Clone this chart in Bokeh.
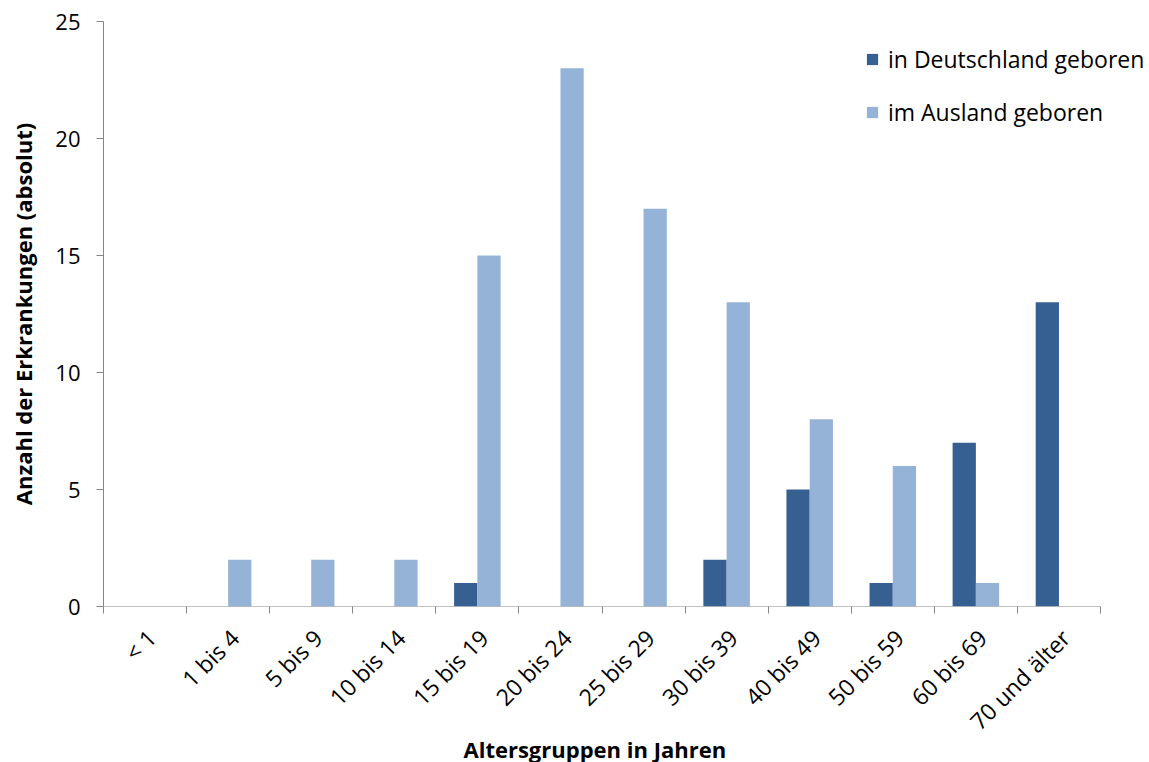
from bokeh.plotting import figure
from bokeh.models import (ColumnDataSource, Range1d, FixedTicker, Legend, LegendItem, Title)
from bokeh.transform import dodge
from bokeh.embed import file_html
from bokeh.resources import INLINE
import math

# Age groups and case counts
categories = ["< 1", "1 bis 4", "5 bis 9", "10 bis 14", "15 bis 19", "20 bis 24",
              "25 bis 29", "30 bis 39", "40 bis 49", "50 bis 59", "60 bis 69", "70 und älter"]
in_deutschland = [0, 0, 0, 0, 1, 0, 0, 2, 5, 1, 7, 13]
im_ausland = [0, 2, 2, 2, 15, 23, 17, 13, 8, 6, 1, 0]
y_ticks = [0, 5, 10, 15, 20, 25]

FONT = "Open Sans"
DARK = "#376092"
LIGHT = "#95B3D7"
AXIS_GREY = "#868686"

W, H = 1149, 762
LEFT, RIGHT_GAP, TOP, BOTTOM = 103, 49, 21, 156

n = len(categories)
centers = [i + 0.5 for i in range(n)]
source = ColumnDataSource(dict(x=centers, de=in_deutschland, aus=im_ausland))

# the frame runs to the right edge so the legend is not clipped;
# the category axis itself stops RIGHT_GAP pixels short of it
frame_w = W - LEFT
x_end = n * frame_w / (frame_w - RIGHT_GAP)

p = figure(width=W, height=H, output_backend="svg", toolbar_location=None,
           x_range=Range1d(0, x_end), y_range=Range1d(0, 25),
           min_border_left=LEFT, min_border_right=0, min_border_top=TOP,
           min_border_bottom=BOTTOM)
p.background_fill_color = "white"
p.border_fill_color = "white"
p.outline_line_color = None
p.xgrid.visible = False
p.ygrid.visible = False

bar_w = 0.28
r_de = p.vbar(x=dodge("x", -bar_w / 2, range=p.x_range), top="de", width=bar_w,
              source=source, fill_color=DARK, line_color=None)
r_aus = p.vbar(x=dodge("x", bar_w / 2, range=p.x_range), top="aus", width=bar_w,
               source=source, fill_color=LIGHT, line_color=None)

# category axis line
p.segment(x0=[0], y0=[0], x1=[n], y1=[0], line_color=AXIS_GREY, line_width=1)

# x axis: labels at each group, tick marks between groups
label_shift = 0.08
xa = p.xaxis[0]
xa.ticker = FixedTicker(ticks=[c + label_shift for c in centers],
                        minor_ticks=list(range(n + 1)))
xa.major_label_overrides = {c + label_shift: lab for c, lab in zip(centers, categories)}
xa.major_tick_out = 0
xa.major_tick_in = 0
xa.minor_tick_out = 7
xa.minor_tick_in = 0
xa.minor_tick_line_color = AXIS_GREY
xa.axis_line_color = None
xa.major_label_orientation = math.pi / 4
xa.major_label_standoff = 20
xa.major_label_text_font = FONT
xa.major_label_text_font_size = "23px"
xa.major_label_text_color = "black"

# x axis title, placed under the category axis span
x_title = Title(text="Altersgruppen in Jahren", align="left", offset=360,
                vertical_align="top", text_font=FONT, text_font_size="22px",
                text_font_style="bold", text_color="black", standoff=-34)
p.add_layout(x_title, "below")

ya = p.yaxis[0]
ya.ticker = FixedTicker(ticks=y_ticks, minor_ticks=[])
ya.major_tick_out = 7
ya.major_tick_in = 0
ya.major_tick_line_color = AXIS_GREY
ya.axis_line_color = AXIS_GREY
ya.major_label_standoff = 16
ya.major_label_text_font = FONT
ya.major_label_text_font_size = "22px"
ya.major_label_text_color = "black"
ya.axis_label = "Anzahl der Erkrankungen (absolut)"
ya.axis_label_text_font = FONT
ya.axis_label_text_font_size = "22px"
ya.axis_label_text_font_style = "bold"
ya.axis_label_text_color = "black"
ya.axis_label_standoff = 14

legend = Legend(items=[LegendItem(label="in Deutschland geboren", renderers=[r_de]),
                       LegendItem(label="im Ausland geboren", renderers=[r_aus])],
                location=(762, 478), orientation="vertical")
legend.border_line_alpha = 0
legend.background_fill_alpha = 0
legend.padding = 0
legend.margin = 0
legend.spacing = 21
legend.glyph_width = 14
legend.glyph_height = 14
legend.label_standoff = 9
legend.label_text_font = FONT
legend.label_text_font_size = "23px"
legend.label_text_color = "black"
p.add_layout(legend, "center")

open("out.html", "w").write(file_html(p, INLINE))
